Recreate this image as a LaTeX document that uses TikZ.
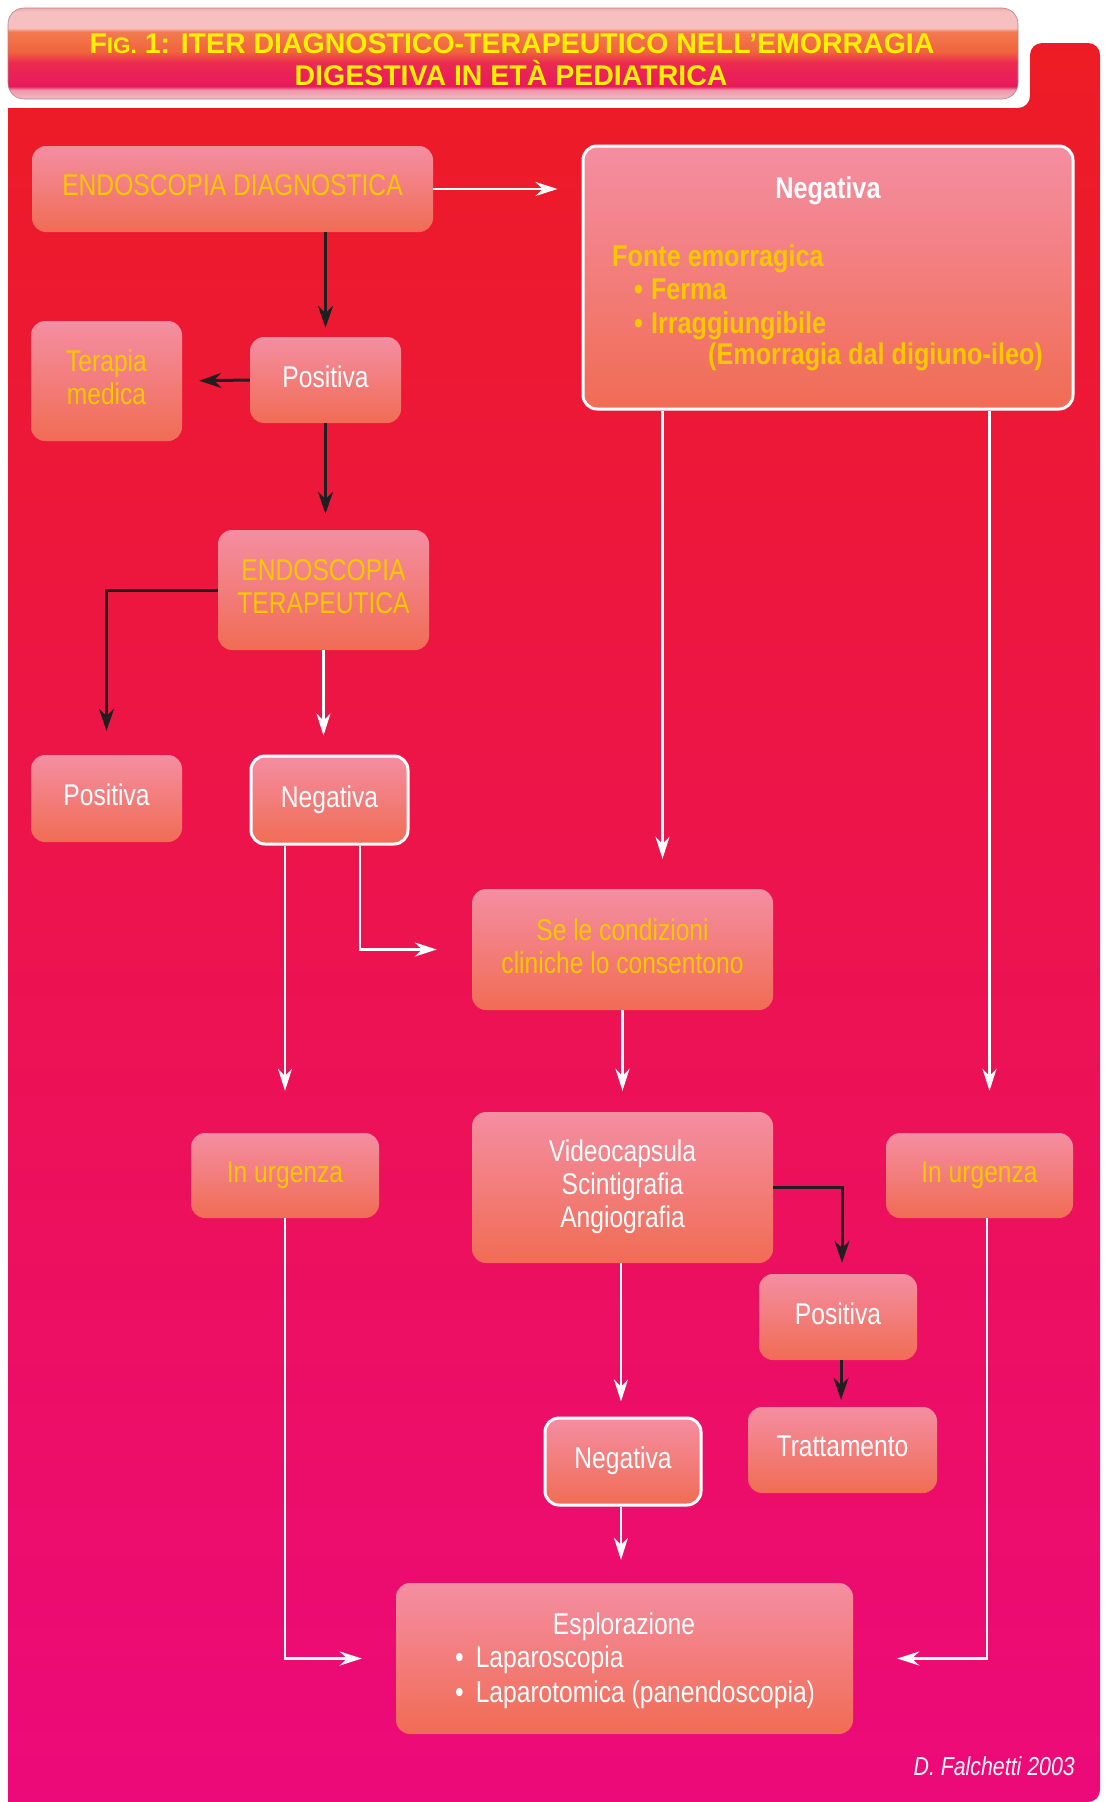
\documentclass[tikz,border=0pt]{standalone}
\usepackage{fontspec}
\setmainfont{Liberation Sans}[FakeStretch=0.82]
\newfontfamily\bcond{Liberation Sans}[FakeStretch=0.84]
\newfontfamily\ttlfont{Liberation Sans}
\usetikzlibrary{arrows.meta,calc}
\definecolor{pantop}{RGB}{237,28,36}
\definecolor{panmid}{RGB}{238,20,78}
\definecolor{panbot}{RGB}{236,10,122}
\definecolor{boxtop}{RGB}{244,142,162}
\definecolor{boxbot}{RGB}{241,108,84}
\definecolor{gold}{RGB}{250,200,0}
\definecolor{ttl}{RGB}{255,240,0}
\definecolor{bnA}{RGB}{240,170,175}
\definecolor{bnB}{RGB}{246,192,192}
\definecolor{bnC}{RGB}{243,122,80}
\definecolor{bnD}{RGB}{240,100,60}
\definecolor{bnE}{RGB}{236,42,80}
\definecolor{bnF}{RGB}{232,25,95}
\definecolor{bnG}{RGB}{238,150,170}
\definecolor{bnH}{RGB}{240,188,198}
\pgfdeclareverticalshading{bannershade}{100bp}{color(0bp)=(bnH); color(25bp)=(bnH); color(30bp)=(bnG); color(32bp)=(bnF); color(45bp)=(bnE); color(51bp)=(bnD); color(62bp)=(bnC); color(64bp)=(bnB); color(73bp)=(bnB); color(75bp)=(bnA); color(100bp)=(bnA)}
\tikzset{
  bx/.style={rounded corners=14pt, top color=boxtop, bottom color=boxbot, inner sep=0pt, align=center, text=white, text depth=7pt, font=\fontsize{30}{33}\selectfont},
  bxw/.style={bx, draw=white, line width=3pt},
  yt/.style={text=gold},
  lbl/.style={inner sep=0pt, font=\fontsize{30}{33}\selectfont},
  lblb/.style={inner sep=0pt, font=\bcond\bfseries\fontsize{30}{33}\selectfont},
  ttlnode/.style={inner sep=0pt, text=ttl, font=\ttlfont\bfseries\fontsize{28.5}{32}\selectfont},
  wa/.style={draw=white, line width=2.5pt, -{Stealth[length=22pt,width=14pt]}},
  ba/.style={draw=black!88, line width=3pt, -{Stealth[length=22pt,width=15pt]}},
}
\begin{document}
\begin{tikzpicture}[x=1pt,y=-1pt]
\useasboundingbox (0,0) rectangle (1104,1802);
\fill[white] (0,0) rectangle (1104,1802);
% panel
\shade[top color=pantop, middle color=panmid, bottom color=panbot]
  (8,1802) -- (8,108) [rounded corners=12pt] -- (1030,108) -- (1030,43) -- (1100,43) -- (1100,1802) [sharp corners] -- cycle;
% banner
\shade[shading=bannershade, rounded corners=16pt, draw=black!30!pink, line width=0.6pt] (8,8) rectangle (1018,99);
\node[ttlnode, anchor=base] (title1) at (512,53)
  {F{\fontsize{22.5}{22}\selectfont IG.} 1: ITER DIAGNOSTICO-TERAPEUTICO NELL’EMORRAGIA};
\node[ttlnode, anchor=base] (title2) at (511,85)
  {DIGESTIVA IN ETÀ PEDIATRICA};

% boxes
\node[bx, yt, minimum width=401pt, minimum height=86pt] (ed) at (232.5,189) {ENDOSCOPIA DIAGNOSTICA};
\node[bx, minimum width=151pt, minimum height=86pt] (pos1) at (325.5,380) {Positiva};
\node[bx, yt, minimum width=151pt, minimum height=120pt] (tm) at (106.5,381) {Terapia\\medica};
\node[bx, yt, minimum width=211pt, minimum height=120pt] (et) at (323.5,590) {ENDOSCOPIA\\TERAPEUTICA};
\node[bx, minimum width=151pt, minimum height=87pt] (pos2) at (106.5,798.5) {Positiva};
\node[bxw, minimum width=157pt, minimum height=88pt] (neg1) at (329.5,800) {Negativa};
\node[bxw, minimum width=490pt, minimum height=263pt] (neg0) at (828,277.5) {};
\node[bx, yt, minimum width=301pt, minimum height=121pt] (cond) at (622.5,949.5) {Se le condizioni\\cliniche lo consentono};
\node[bx, yt, minimum width=188pt, minimum height=85pt] (urgL) at (285,1175.5) {In urgenza};
\node[bx, minimum width=301pt, minimum height=151pt] (vid) at (622.5,1187.5) {Videocapsula\\Scintigrafia\\Angiografia};
\node[bx, yt, minimum width=187pt, minimum height=85pt] (urgR) at (979.5,1175.5) {In urgenza};
\node[bx, minimum width=158pt, minimum height=86pt] (pos3) at (838,1317) {Positiva};
\node[bx, minimum width=189pt, minimum height=86pt] (tratt) at (842.5,1450) {Trattamento};
\node[bxw, minimum width=156pt, minimum height=87pt] (neg2) at (623,1461.5) {Negativa};
\node[bx, minimum width=457pt, minimum height=151pt] (espl) at (624.5,1658.5) {};

% texts in big negative box
\node[lblb, text=white, anchor=base] (n0t) at (828,198) {Negativa};
\node[lblb, text=gold, anchor=base west] (n0a) at (612,266) {Fonte emorragica};
\node[lblb, text=gold, anchor=base west] (n0b) at (634,299) {\textbullet\hspace{8pt}Ferma};
\node[lblb, text=gold, anchor=base west] (n0c) at (634,333) {\textbullet\hspace{8pt}Irraggiungibile};
\node[lblb, text=gold, anchor=base west] (n0d) at (708,364) {(Emorragia dal digiuno-ileo)};

% texts in esplorazione box
\node[lbl, text=white, anchor=base] (esA) at (624,1634) {Esplorazione};
\node[lbl, text=white, anchor=base west] (esB) at (455,1667) {\textbullet\hspace{12pt}Laparoscopia};
\node[lbl, text=white, anchor=base west] (esC) at (455,1702) {\textbullet\hspace{12pt}Laparotomica (panendoscopia)};

% signature
\node[lbl, font=\itshape\fontsize{26}{30}\selectfont, text=white!92!pink, anchor=base east] (sig) at (1075,1775) {D. Falchetti 2003};

% helper coordinates
\coordinate (n0L) at ([xshift=81pt]neg0.south west);
\coordinate (n0R) at ([xshift=-85pt]neg0.south east);
\coordinate (n1R) at ([xshift=30.5pt]neg1.south);
\coordinate (n1L) at (urgL.north |- neg1.south);
\coordinate (uRs) at ([xshift=7.5pt]urgR.south);

% connectors
\draw[wa, shorten >=24pt] (ed.east) -- (ed.east -| neg0.west);
\draw[ba, shorten >=9pt] (pos1.north |- ed.south) -- (pos1.north);
\draw[ba, shorten >=17pt] (pos1.west) -- (tm.east);
\draw[ba, shorten >=16pt] (pos1.south) -- (pos1.south |- et.north);
\draw[ba, shorten >=24pt] (et.west) -| (pos2.north);
\draw[wa, shorten >=19pt] (et.south) -- (et.south |- neg1.north);
\draw[wa, shorten >=42pt] (n1L) -- (urgL.north);
\draw[wa, shorten >=35pt] (n1R) |- (cond.west);
\draw[wa, shorten >=30pt] (n0L) -- (n0L |- cond.north);
\draw[wa, shorten >=42pt] (n0R) -- (n0R |- urgR.north);
\draw[wa, shorten >=21pt] (cond.south) -- (vid.north);
\draw[wa, shorten >=34pt] (urgL.south) |- (espl.west);
\draw[wa, shorten >=44pt] (uRs) |- (espl.east);
\draw[ba, shorten >=11pt] (vid.east) -| ([xshift=4pt]pos3.north);
\draw[ba, shorten >=7pt] ([xshift=3pt]pos3.south) -- ([xshift=3pt]pos3.south |- tratt.north);
\draw[wa, shorten >=15pt] ([xshift=-1.5pt]vid.south) -- ([xshift=-2pt]neg2.north);
\draw[wa, shorten >=23pt] ([xshift=-2pt]neg2.south) -- ([xshift=-2pt]neg2.south |- espl.north);
\end{tikzpicture}
\end{document}
